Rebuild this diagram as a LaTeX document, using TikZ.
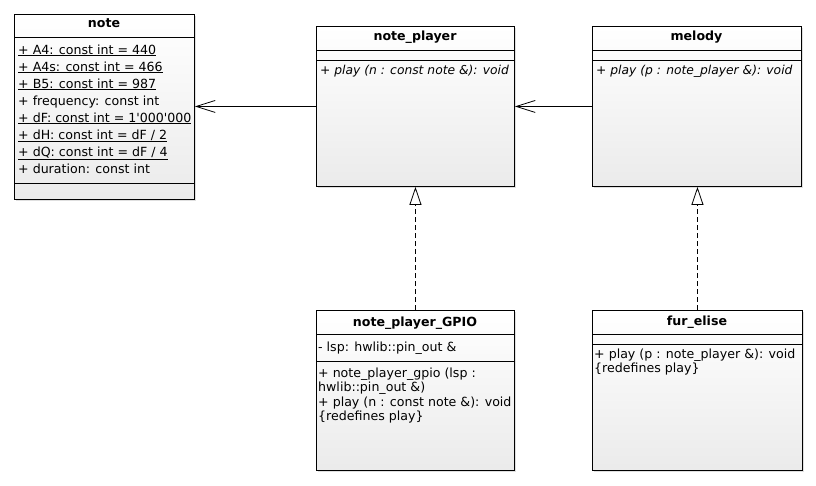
\documentclass[tikz,border=0pt]{standalone}
\usepackage{fontspec}
\setmainfont{DejaVu Sans}
\usetikzlibrary{arrows.meta,shadows}
\begin{document}
\begin{tikzpicture}[x=1pt,y=-1pt,
  umlbox/.style={draw=black, line width=0.9pt, rectangle, inner sep=0pt, anchor=north west,
    top color=white, bottom color=black!8,
    drop shadow={shadow xshift=2pt, shadow yshift=-2pt, opacity=0.25}},
  ttl/.style={font=\fontsize{12.6}{14}\selectfont\bfseries, inner sep=0pt, anchor=base},
  attr/.style={font=\fontsize{12.6}{14}\selectfont, inner sep=0pt, anchor=base west},
  absop/.style={attr, font=\fontsize{12.3}{14}\selectfont\itshape},
  sepline/.style={line width=0.9pt},
  assoc/.style={-{Straight Barb[length=19pt,width=12pt]}, line width=0.8pt},
  realize/.style={-{Triangle[length=18pt,width=12pt,fill=white]}, dash pattern=on 5pt off 3pt, line width=0.8pt},
]
\useasboundingbox (0,0) rectangle (816,485);

% ---- note ----
\node[umlbox, minimum width=180pt, minimum height=185pt] (note) at (14,14) {};
\draw[sepline] (note.west |- 0,37) -- (note.east |- 0,37);
\draw[sepline] (note.west |- 0,183) -- (note.east |- 0,183);
\node[ttl] (noteT) at (104,27) {note};
\node[attr] (a1) at (18,54) {\underline{+ A4: const int = 440}};
\node[attr] (a2) at (18,71) {\underline{+ A4s: const int = 466}};
\node[attr] (a3) at (18,88) {\underline{+ B5: const int = 987}};
\node[attr] (a4) at (18,105) {+ frequency: const int};
\node[attr] (a5) at (18,122) {\underline{+ dF: const int = 1\textquotesingle000\textquotesingle000}};
\node[attr] (a6) at (18,139) {\underline{+ dH: const int = dF / 2}};
\node[attr] (a7) at (18,156) {\underline{+ dQ: const int = dF / 4}};
\node[attr] (a8) at (18,173) {+ duration: const int};

% ---- note_player ----
\node[umlbox, minimum width=198pt, minimum height=160pt] (np) at (316,26) {};
\draw[sepline] (np.west |- 0,50) -- (np.east |- 0,50);
\draw[sepline] (np.west |- 0,60) -- (np.east |- 0,60);
\node[ttl] (npT) at (415,40.5) {note\_player};
\node[absop] (npM) at (320,74) {+ play (n : const note \&): void};

% ---- melody ----
\node[umlbox, minimum width=209pt, minimum height=160pt] (mel) at (592,26) {};
\draw[sepline] (mel.west |- 0,50) -- (mel.east |- 0,50);
\draw[sepline] (mel.west |- 0,60) -- (mel.east |- 0,60);
\node[ttl] (melT) at (696.5,40.5) {melody};
\node[absop] (melM) at (596,74) {+ play (p : note\_player \&): void};

% ---- note_player_GPIO ----
\node[umlbox, minimum width=198pt, minimum height=160pt] (gpio) at (316,310) {};
\draw[sepline] (gpio.west |- 0,334) -- (gpio.east |- 0,334);
\draw[sepline] (gpio.west |- 0,361) -- (gpio.east |- 0,361);
\node[ttl] (gpioT) at (415,326) {note\_player\_GPIO};
\node[attr] (g1) at (318,351) {- lsp: hwlib::pin\_out \&};
\node[attr] (g2) at (318,377) {+ note\_player\_gpio (lsp :};
\node[attr] (g3) at (318,391.5) {hwlib::pin\_out \&)};
\node[attr] (g4) at (318,406) {+ play (n : const note \&): void};
\node[attr] (g5) at (318,420.5) {\{redefines play\}};

% ---- fur_elise ----
\node[umlbox, minimum width=210pt, minimum height=160pt] (fur) at (592,310) {};
\draw[sepline] (fur.west |- 0,334) -- (fur.east |- 0,334);
\draw[sepline] (fur.west |- 0,344) -- (fur.east |- 0,344);
\node[ttl] (furT) at (697,325) {fur\_elise};
\node[attr] (f1) at (594,358) {+ play (p : note\_player \&): void};
\node[attr] (f2) at (594,372.5) {\{redefines play\}};

% ---- connectors ----
\draw[assoc] (np.west) -- (note.east |- np.west);
\draw[assoc] (mel.west) -- (np.east);
\draw[realize] (gpio.north) -- (np.south);
\draw[realize] (fur.north) -- (fur.north |- mel.south);
\end{tikzpicture}
\end{document}
